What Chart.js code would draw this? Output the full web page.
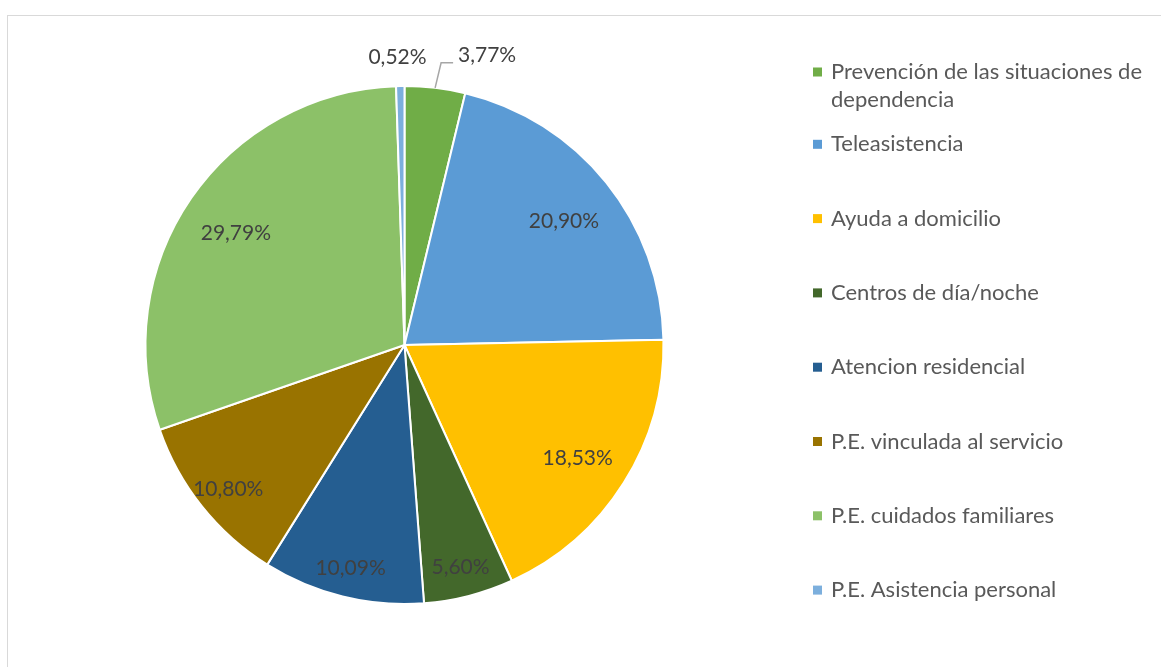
<!DOCTYPE html>
<html>
<head>
<meta charset="utf-8">
<script src="https://cdn.jsdelivr.net/npm/chart.js@4"></script>
<style>
  html, body { margin: 0; padding: 0; background: #fff; }
  #wrap { position: relative; width: 1161px; height: 667px; }
</style>
</head>
<body>
<div id="wrap"><canvas id="pie"></canvas></div>
<script>
// Service shares (%), clockwise from 12 o'clock
const categories = [
  ['Prevención de las situaciones de', 'dependencia'],
  ['Teleasistencia'],
  ['Ayuda a domicilio'],
  ['Centros de día/noche'],
  ['Atencion residencial'],
  ['P.E. vinculada al servicio'],
  ['P.E. cuidados familiares'],
  ['P.E. Asistencia personal'],
];
const shares = [3.77, 20.90, 18.53, 5.60, 10.09, 10.80, 29.79, 0.52];
const sliceColors = ['#70ad47', '#5b9bd5', '#ffc000', '#43682b', '#255e91', '#997300', '#8cc168', '#7cafdd'];

const FONT = 'Lato, "Open Sans", sans-serif';

function fmtPct(v) {
  return v.toFixed(2).replace('.', ',') + '%';
}

// light gray frame behind everything
const framePlugin = {
  id: 'frame',
  beforeDraw(chart) {
    const ctx = chart.ctx;
    ctx.save();
    ctx.strokeStyle = '#d9d9d9';
    ctx.lineWidth = 1;
    ctx.strokeRect(7.5, 15.5, 1200, 700);
    ctx.restore();
  },
};

// percentage labels: inside for big slices, outside w/ leader for tiny ones
const labelPlugin = {
  id: 'pctLabels',
  afterDatasetsDraw(chart) {
    const ctx = chart.ctx;
    const meta = chart.getDatasetMeta(0);
    ctx.save();
    ctx.font = '21px ' + FONT;
    ctx.fillStyle = '#404040';
    ctx.textAlign = 'center';
    ctx.textBaseline = 'middle';
    meta.data.forEach((arc, i) => {
      const v = shares[i];
      const mid = (arc.startAngle + arc.endAngle) / 2;
      const r = arc.outerRadius;
      if (v < 1) {
        ctx.fillText(fmtPct(v), arc.x - 7, arc.y - r - 29);
        return;
      }
      if (v < 5) {
        const x0 = arc.x + Math.cos(mid) * r;
        const y0 = arc.y + Math.sin(mid) * r;
        ctx.strokeStyle = '#a6a6a6';
        ctx.lineWidth = 1.5;
        ctx.beginPath();
        ctx.moveTo(x0, y0);
        ctx.lineTo(x0 + 6, y0 - 25);
        ctx.lineTo(x0 + 18, y0 - 25);
        ctx.stroke();
        ctx.fillText(fmtPct(v), x0 + 52, y0 - 33);
        return;
      }
      const k = v < 12 ? 0.87 : 0.79;
      ctx.fillText(fmtPct(v), arc.x + Math.cos(mid) * r * k, arc.y + Math.sin(mid) * r * k + 4);
    });
    ctx.restore();
  },
};

// legend on the right, with wrapped first entry
const legendPlugin = {
  id: 'sideLegend',
  afterDraw(chart) {
    const ctx = chart.ctx;
    ctx.save();
    ctx.font = '22px ' + FONT;
    ctx.textBaseline = 'middle';
    ctx.textAlign = 'left';
    const top = 72, step = 74.3, lineH = 28;
    categories.forEach((lines, i) => {
      const y = top + (i === 0 ? 0 : i * step - 2);
      ctx.fillStyle = sliceColors[i];
      ctx.fillRect(813, y - 4.5, 9, 9);
      ctx.fillStyle = '#595959';
      lines.forEach((t, j) => ctx.fillText(t, 831, y + j * lineH));
    });
    ctx.restore();
  },
};

new Chart(document.getElementById('pie'), {
  type: 'pie',
  data: {
    labels: categories.map(c => c.join(' ')),
    datasets: [{
      data: shares,
      backgroundColor: sliceColors,
      borderColor: '#ffffff',
      borderWidth: 2,
    }],
  },
  options: {
    responsive: true,
    maintainAspectRatio: false,
    animation: false,
    layout: { padding: { left: 144, right: 496, top: 85, bottom: 62 } },
    plugins: {
      legend: { display: false },
      tooltip: { enabled: false },
    },
  },
  plugins: [framePlugin, labelPlugin, legendPlugin],
});
</script>
</body>
</html>
